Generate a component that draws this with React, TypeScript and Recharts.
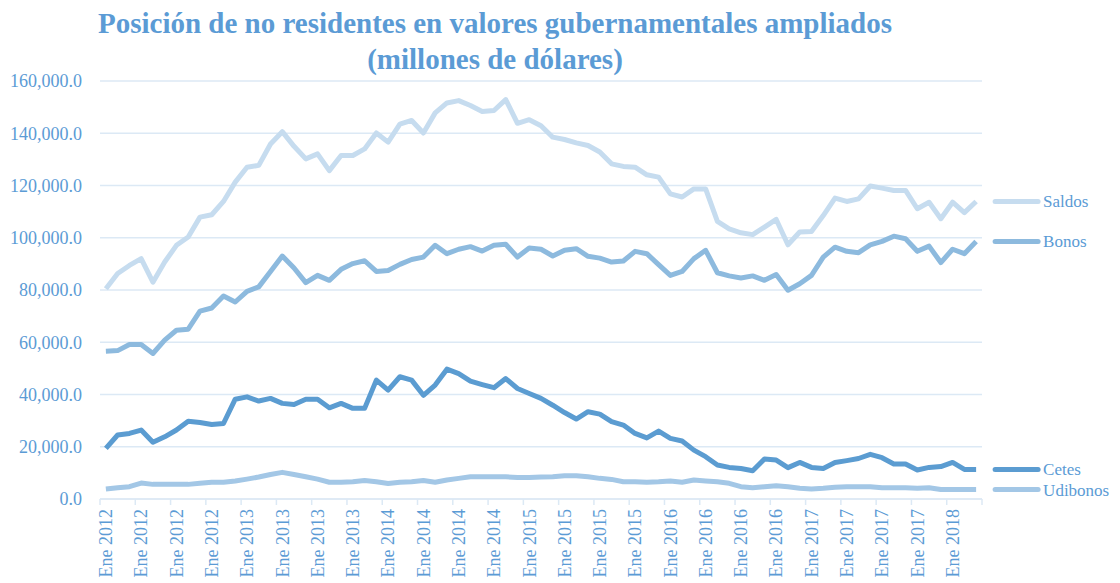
import React from "react";
import { LineChart, Line, XAxis, YAxis, CartesianGrid, LabelList } from "recharts";

// Posición de no residentes en valores gubernamentales ampliados
// mensual, Ene 2012 - Mar 2018 (millones de dólares)

const saldos = [
  80500, 86300, 89400, 92000, 83000, 90700, 97100, 100300, 107900, 108800, 113900, 121300,
  127000, 127700, 135900, 140600, 135000, 130200, 132100, 125700, 131500, 131500, 134000, 140100,
  136600, 143500, 144900, 140100, 147800, 151600, 152500, 150600, 148300, 148700, 152900, 143800,
  145200, 142900, 138500, 137600, 136300, 135300, 132800, 128300, 127300, 127000, 124100, 123200,
  116800, 115600, 118700, 118700, 106300, 103400, 101900, 101200, 104100, 107000, 97300, 102200,
  102400, 108500, 115200, 113900, 114900, 119800, 119000, 118100, 118100, 111100, 113600, 107300,
  113600, 109600, 113900,
];

const bonos = [
  56600, 56800, 59100, 59100, 55700, 60800, 64600, 65000, 71900, 73100, 77700, 75400,
  79500, 81200, 87100, 93000, 88400, 82800, 85600, 83700, 87900, 90100, 91200, 87100,
  87500, 89800, 91700, 92600, 97100, 93900, 95600, 96600, 94900, 97100, 97500, 92600,
  96100, 95600, 93000, 95200, 95800, 92900, 92200, 90700, 91100, 94800, 93900, 89700,
  85600, 87100, 92000, 95200, 86600, 85400, 84600, 85400, 83700, 85900, 79900, 82400,
  85600, 92600, 96400, 94800, 94300, 97300, 98600, 100600, 99600, 94800, 96800, 90500,
  95600, 93900, 98600,
];

const cetes = [
  19400, 24500, 25100, 26400, 21700, 23800, 26400, 29800, 29300, 28500, 28900, 38200,
  39100, 37500, 38500, 36600, 36200, 38200, 38200, 34900, 36600, 34700, 34700, 45500,
  41700, 46800, 45500, 39700, 43600, 49700, 48000, 45100, 43800, 42600, 46100, 42300,
  40400, 38500, 35900, 33100, 30600, 33400, 32500, 29600, 28300, 25100, 23400, 26000,
  23200, 22200, 18700, 16200, 13000, 12100, 11700, 10800, 15300, 14900, 12000, 14000,
  12100, 11700, 14000, 14700, 15500, 17100, 15800, 13400, 13400, 11100, 12100, 12400,
  14000, 11300, 11300,
];

const udibonos = [
  3800, 4300, 4700, 6100, 5600, 5600, 5600, 5600, 6000, 6400, 6400, 6900,
  7600, 8400, 9400, 10200, 9400, 8500, 7600, 6400, 6400, 6600, 7100, 6600,
  5900, 6400, 6600, 7100, 6400, 7300, 7900, 8500, 8500, 8500, 8500, 8200,
  8200, 8400, 8500, 8900, 8900, 8500, 7900, 7500, 6600, 6600, 6400, 6600,
  6900, 6400, 7300, 6900, 6600, 6000, 4700, 4300, 4700, 5100, 4700, 4100,
  3800, 4100, 4500, 4700, 4700, 4700, 4300, 4300, 4300, 4100, 4300, 3600,
  3600, 3600, 3600,
];

// una etiqueta cada 3 meses (el formato original muestra siempre "Ene")
const tickLabels = [
  "Ene 2012", "Ene 2012", "Ene 2012", "Ene 2012",
  "Ene 2013", "Ene 2013", "Ene 2013", "Ene 2013",
  "Ene 2014", "Ene 2014", "Ene 2014", "Ene 2014",
  "Ene 2015", "Ene 2015", "Ene 2015", "Ene 2015",
  "Ene 2016", "Ene 2016", "Ene 2016", "Ene 2016",
  "Ene 2017", "Ene 2017", "Ene 2017", "Ene 2017",
  "Ene 2018",
];

const yTicks = [0, 20000, 40000, 60000, 80000, 100000, 120000, 140000, 160000];

const COLORS = {
  saldos: "#c6dcef",
  bonos: "#8dbade",
  cetes: "#5b9cd1",
  udibonos: "#a3c7e6",
};
const TEXT_COLOR = "#5b9bd5";
const GRID_COLOR = "#dce9f5";
const FONT = "'Liberation Serif', 'Times New Roman', serif";

const WIDTH = 1120;
const HEIGHT = 583;
const MARGIN = { top: 81, right: 138, bottom: 0, left: 0 };
const Y_AXIS_W = 100;
const PLOT_W = WIDTH - MARGIN.left - MARGIN.right - Y_AXIS_W;
const N = saldos.length;
const HALF_STEP = PLOT_W / N / 2;

const data = saldos.map((v, i) => ({
  pos: i + 0.5,
  saldos: v,
  bonos: bonos[i],
  cetes: cetes[i],
  udibonos: udibonos[i],
}));

const xTicks = tickLabels.map((_, i) => i * 3).concat([N]);

function fmtY(v: number) {
  return v.toLocaleString("en-US", { minimumFractionDigits: 1, maximumFractionDigits: 1 });
}

/** etiqueta rotada del eje X, centrada en el mes */
function XTick(props: any) {
  const { x, y, payload } = props;
  const label = tickLabels[Math.round(payload.value / 3)];
  if (!label || payload.value >= N) return null;
  return (
    <text
      x={x + HALF_STEP}
      y={y + 2}
      dy="0.35em"
      transform={`rotate(-90, ${x + HALF_STEP}, ${y + 2})`}
      textAnchor="end"
      fill={TEXT_COLOR}
      fontSize={18}
      fontFamily={FONT}
    >
      {label}
    </text>
  );
}

/** leyenda junto al último punto de cada serie */
function endLabel(name: string, color: string) {
  return function EndLabel(props: any) {
    const { x, y, index } = props;
    if (index !== N - 1) return null;
    return (
      <g>
        <line x1={x + 19} y1={y} x2={x + 62} y2={y} stroke={color} strokeWidth={5} strokeLinecap="round" />
        <text x={x + 67} y={y} dy="0.35em" fill={TEXT_COLOR} fontSize={17} fontFamily={FONT}>
          {name}
        </text>
      </g>
    );
  };
}

export default function App() {
  return (
    <div style={{ position: "absolute", left: 0, top: 0, width: WIDTH, height: HEIGHT, background: "#fff", overflow: "hidden" }}>
      <div
        style={{
          position: "absolute",
          left: 0,
          top: 5,
          width: 990,
          textAlign: "center",
          fontFamily: FONT,
          fontWeight: "bold",
          fontSize: 29,
          lineHeight: "36px",
          color: TEXT_COLOR,
        }}
      >
        Posición de no residentes en valores gubernamentales ampliados
        <br />
        (millones de dólares)
      </div>
      <LineChart width={WIDTH} height={HEIGHT} data={data} margin={MARGIN}>
        <CartesianGrid vertical={false} stroke={GRID_COLOR} strokeWidth={1.5} />
        <XAxis
          type="number"
          dataKey="pos"
          domain={[0, N]}
          ticks={xTicks}
          interval={0}
          height={84}
          axisLine={{ stroke: GRID_COLOR, strokeWidth: 1.5 }}
          tickLine={{ stroke: GRID_COLOR, strokeWidth: 1.5 }}
          tickSize={6}
          tick={<XTick />}
        />
        <YAxis
          type="number"
          domain={[0, 160000]}
          ticks={yTicks}
          width={Y_AXIS_W}
          axisLine={false}
          tickLine={false}
          tickSize={0}
          tickMargin={18}
          tickFormatter={fmtY}
          tick={{ fill: TEXT_COLOR, fontSize: 18, fontFamily: FONT }}
        />
        <Line dataKey="saldos" stroke={COLORS.saldos} strokeWidth={5} dot={false} strokeLinejoin="round" isAnimationActive={false}>
          <LabelList dataKey="saldos" content={endLabel("Saldos", COLORS.saldos)} />
        </Line>
        <Line dataKey="bonos" stroke={COLORS.bonos} strokeWidth={5} dot={false} strokeLinejoin="round" isAnimationActive={false}>
          <LabelList dataKey="bonos" content={endLabel("Bonos", COLORS.bonos)} />
        </Line>
        <Line dataKey="cetes" stroke={COLORS.cetes} strokeWidth={5} dot={false} strokeLinejoin="round" isAnimationActive={false}>
          <LabelList dataKey="cetes" content={endLabel("Cetes", COLORS.cetes)} />
        </Line>
        <Line dataKey="udibonos" stroke={COLORS.udibonos} strokeWidth={5} dot={false} strokeLinejoin="round" isAnimationActive={false}>
          <LabelList dataKey="udibonos" content={endLabel("Udibonos", COLORS.udibonos)} />
        </Line>
      </LineChart>
    </div>
  );
}
